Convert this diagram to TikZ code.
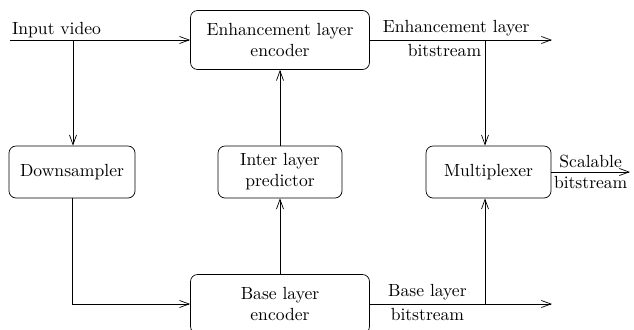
\documentclass[tikz,border=0pt]{standalone}
\usepackage{tikz}
\usetikzlibrary{arrows.meta}

\begin{document}
\begin{tikzpicture}[
    >={Straight Barb[length=5.5pt,width=4pt]},
    block/.style={shape=rectangle, draw=black, rounded corners=4pt, align=center},
    lbl/.style={inner sep=2pt}]

            \useasboundingbox (0,0) rectangle (12.68,-6.58);

            \node[block, minimum width=3.58cm, minimum height=1.18cm] (enc) at (5.6,-0.8) {Enhancement layer\\encoder};
            \node[block, minimum width=2.52cm, minimum height=1.04cm] (down) at (1.44,-3.44) {Downsampler};
            \node[block, minimum width=2.48cm, minimum height=1.04cm] (ilp) at (5.6,-3.44) {Inter layer\\predictor};
            \node[block, minimum width=2.5cm, minimum height=1.04cm] (mux) at (9.77,-3.44) {Multiplexer};
            \node[block, minimum width=3.58cm, minimum height=1.18cm] (base) at (5.6,-6.08) {Base layer\\encoder};

            \coordinate (in) at (0.2,-0.8);
            \coordinate (insplit) at (1.46,-0.8);
            \coordinate (encout) at (11.04,-0.8);
            \coordinate (esplit) at (9.7,-0.8);
            \coordinate (baseout) at (11.04,-6.08);
            \coordinate (bsplit) at (9.7,-6.08);
            \coordinate (muxout) at (12.6,-3.44);

            \draw[->] (in) -- (enc.west) node[pos=0, above right, inner sep=1pt] (inlbl) {Input video};
            \draw[->] (insplit) -- (insplit |- down.north);
            \draw[->] (down.south) |- (base.west);
            \draw[->] (base.north) -- (ilp.south);
            \draw[->] (ilp.north) -- (enc.south);

            \draw[->] (enc.east) -- (encout) node[pos=0.05, above right, lbl] (enclbl) {Enhancement layer};
            \node[lbl, below left] (enclbltwo) at (esplit) {bitstream};
            \draw[->] (esplit) -- (esplit |- mux.north);

            \draw[->] (base.east) -- (baseout);
            \draw (base.east) -- (bsplit) node[midway, above, lbl] (baselbl) {Base layer}
                                          node[midway, below, lbl] (baselbltwo) {bitstream};
            \draw[->] (bsplit) -- (bsplit |- mux.south);

            \draw[->] (mux.east) -- (muxout) node[midway, above, lbl] (muxlbl) {Scalable}
                                             node[midway, below, lbl] (muxlbltwo) {bitstream};

        \end{tikzpicture}
\end{document}
